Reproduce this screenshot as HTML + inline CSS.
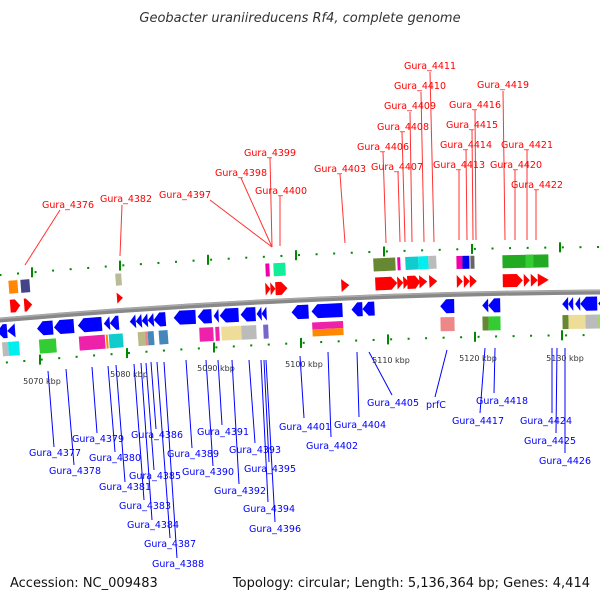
<!DOCTYPE html>
<html><head><style>
body{margin:0;background:#fff;}
svg{display:block;font-family:"DejaVu Sans","Liberation Sans",sans-serif;}
.r{fill:#f00;font-size:9.5px;text-anchor:middle}
.b{fill:#00f;font-size:9.5px;text-anchor:middle}
.k{fill:#333;font-size:8px;text-anchor:middle}
</style></head><body>
<svg width="600" height="600" viewBox="0 0 600 600">
<text x="300" y="22" font-size="13" font-style="italic" text-anchor="middle" fill="#333">Geobacter uraniireducens Rf4, complete genome</text>
<text x="10" y="587" font-size="13" fill="#111">Accession: NC_009483</text>
<text x="590" y="587" font-size="13" fill="#111" text-anchor="end">Topology: circular; Length: 5,136,364 bp; Genes: 4,414</text>

<g stroke="#f33" stroke-width="1">
<line x1="60" y1="210" x2="25" y2="265"/>
<line x1="122" y1="205" x2="120" y2="256"/>
<line x1="210" y1="200" x2="272" y2="247"/>
<line x1="241" y1="178" x2="272" y2="247"/>
<line x1="270" y1="158" x2="272" y2="247"/>
<line x1="280" y1="196" x2="280" y2="246"/>
<line x1="340" y1="174" x2="345" y2="243"/>
<line x1="383" y1="152" x2="386" y2="243"/>
<line x1="398" y1="172" x2="400" y2="242"/>
<line x1="402" y1="132" x2="405" y2="242"/>
<line x1="410" y1="112" x2="412" y2="242"/>
<line x1="421" y1="92" x2="424" y2="242"/>
<line x1="430" y1="72" x2="434" y2="242"/>
<line x1="459" y1="170" x2="459" y2="240"/>
<line x1="466" y1="150" x2="467" y2="240"/>
<line x1="472" y1="130" x2="473" y2="240"/>
<line x1="475" y1="110" x2="476" y2="240"/>
<line x1="503" y1="91" x2="505" y2="240"/>
<line x1="515" y1="170" x2="515" y2="240"/>
<line x1="527" y1="150" x2="527" y2="240"/>
<line x1="536" y1="190" x2="536" y2="240"/>
</g>
<g>
<text x="68" y="208" class="r">Gura_4376</text>
<text x="126" y="202" class="r">Gura_4382</text>
<text x="185" y="198" class="r">Gura_4397</text>
<text x="241" y="176" class="r">Gura_4398</text>
<text x="270" y="156" class="r">Gura_4399</text>
<text x="281" y="194" class="r">Gura_4400</text>
<text x="340" y="172" class="r">Gura_4403</text>
<text x="383" y="150" class="r">Gura_4406</text>
<text x="397" y="170" class="r">Gura_4407</text>
<text x="403" y="130" class="r">Gura_4408</text>
<text x="410" y="109" class="r">Gura_4409</text>
<text x="420" y="89" class="r">Gura_4410</text>
<text x="430" y="69" class="r">Gura_4411</text>
<text x="459" y="168" class="r">Gura_4413</text>
<text x="466" y="148" class="r">Gura_4414</text>
<text x="472" y="128" class="r">Gura_4415</text>
<text x="475" y="108" class="r">Gura_4416</text>
<text x="503" y="88" class="r">Gura_4419</text>
<text x="516" y="168" class="r">Gura_4420</text>
<text x="527" y="148" class="r">Gura_4421</text>
<text x="537" y="188" class="r">Gura_4422</text>
</g>

<g stroke="#00f" stroke-width="1">
<line x1="48" y1="371" x2="54" y2="447"/>
<line x1="66" y1="369" x2="74" y2="465"/>
<line x1="92" y1="367" x2="97" y2="433"/>
<line x1="108" y1="366" x2="115" y2="452"/>
<line x1="116" y1="365" x2="125" y2="482"/>
<line x1="134" y1="364" x2="144" y2="500"/>
<line x1="141" y1="363" x2="152" y2="520"/>
<line x1="146" y1="363" x2="154" y2="470"/>
<line x1="151" y1="362" x2="156" y2="429"/>
<line x1="157" y1="362" x2="170" y2="538"/>
<line x1="164" y1="362" x2="177" y2="558"/>
<line x1="186" y1="360" x2="192" y2="448"/>
<line x1="206" y1="360" x2="213" y2="466"/>
<line x1="218" y1="360" x2="222" y2="425"/>
<line x1="232" y1="360" x2="239" y2="484"/>
<line x1="249" y1="360" x2="255" y2="443"/>
<line x1="261" y1="360" x2="268" y2="502"/>
<line x1="264" y1="360" x2="269" y2="462"/>
<line x1="266" y1="360" x2="275" y2="522"/>
<line x1="300" y1="356" x2="304" y2="418"/>
<line x1="328" y1="352" x2="331" y2="437"/>
<line x1="357" y1="352" x2="359" y2="417"/>
<line x1="369" y1="352" x2="392" y2="395"/>
<line x1="447" y1="350" x2="435" y2="397"/>
<line x1="485" y1="348" x2="480" y2="413"/>
<line x1="495" y1="348" x2="494" y2="393"/>
<line x1="552" y1="348" x2="552" y2="413"/>
<line x1="557" y1="348" x2="556" y2="433"/>
<line x1="565" y1="348" x2="565" y2="453"/>
</g>
<g>
<text x="55" y="456" class="b">Gura_4377</text>
<text x="75" y="474" class="b">Gura_4378</text>
<text x="98" y="442" class="b">Gura_4379</text>
<text x="115" y="461" class="b">Gura_4380</text>
<text x="125" y="490" class="b">Gura_4381</text>
<text x="145" y="509" class="b">Gura_4383</text>
<text x="153" y="528" class="b">Gura_4384</text>
<text x="155" y="479" class="b">Gura_4385</text>
<text x="157" y="438" class="b">Gura_4386</text>
<text x="170" y="547" class="b">Gura_4387</text>
<text x="178" y="567" class="b">Gura_4388</text>
<text x="193" y="457" class="b">Gura_4389</text>
<text x="208" y="475" class="b">Gura_4390</text>
<text x="223" y="435" class="b">Gura_4391</text>
<text x="240" y="494" class="b">Gura_4392</text>
<text x="255" y="453" class="b">Gura_4393</text>
<text x="269" y="512" class="b">Gura_4394</text>
<text x="270" y="472" class="b">Gura_4395</text>
<text x="275" y="532" class="b">Gura_4396</text>
<text x="305" y="430" class="b">Gura_4401</text>
<text x="332" y="449" class="b">Gura_4402</text>
<text x="360" y="428" class="b">Gura_4404</text>
<text x="393" y="406" class="b">Gura_4405</text>
<text x="436" y="408" class="b">prfC</text>
<text x="478" y="424" class="b">Gura_4417</text>
<text x="502" y="404" class="b">Gura_4418</text>
<text x="546" y="424" class="b">Gura_4424</text>
<text x="550" y="444" class="b">Gura_4425</text>
<text x="565" y="464" class="b">Gura_4426</text>
</g>

<!-- genome arc -->
<path d="M-30,322.7 Q300,292.7 630,291.9" fill="none" stroke="#888" stroke-width="5"/>
<path d="M-30,321.2 Q300,291.2 630,290.4" fill="none" stroke="#aaa" stroke-width="1.5"/>
<path d="M-30,277.7 Q300,247.7 630,246.9" fill="none" stroke="#080" stroke-width="2" stroke-dasharray="2 15.6" stroke-dashoffset="-12"/>
<path d="M-30,365.7 Q300,335.7 630,334.9" fill="none" stroke="#080" stroke-width="2" stroke-dasharray="2 15.5" stroke-dashoffset="-1"/>
<g stroke="#080" stroke-width="2">
<line x1="32" y1="267.3" x2="32" y2="277.3"/><line x1="120" y1="260.6" x2="120" y2="270.6"/><line x1="208" y1="254.8" x2="208" y2="264.8"/><line x1="296" y1="250.2" x2="296" y2="260.2"/><line x1="384" y1="246.5" x2="384" y2="256.5"/><line x1="472" y1="243.9" x2="472" y2="253.9"/><line x1="560" y1="242.3" x2="560" y2="252.3"/>
<line x1="40" y1="354.6" x2="40" y2="364.6"/><line x1="127" y1="348.1" x2="127" y2="358.1"/><line x1="214" y1="342.5" x2="214" y2="352.5"/><line x1="301" y1="337.9" x2="301" y2="347.9"/><line x1="388" y1="334.4" x2="388" y2="344.4"/><line x1="475" y1="331.8" x2="475" y2="341.8"/><line x1="562" y1="330.3" x2="562" y2="340.3"/>
</g>

<!-- segment A -->
<g transform="translate(0,6.1) rotate(-4.3 85 307)">
<rect x="11" y="269" width="9" height="13" fill="#f80"/>
<rect x="23" y="269" width="9" height="13" fill="#448"/>
<rect x="118" y="270" width="6" height="12" fill="#bb9"/>
<g fill="#f00">
<polygon points="11,288 16,288 21,294.5 16,301 11,301"/>
<polygon points="25,288 27,288 33,294.5 27,301 25,301"/>
<polygon points="118,289 124,294.5 118,300"/>
</g>
<g fill="#00f">
<polygon points="-4,319 2,312 6,312 6,326 2,326"/>
<polygon points="6,319 14,312 14,326"/>
<polygon points="36,319 42,312 52,312 52,326 42,326"/>
<polygon points="53,319 59,312 73,312 73,326 59,326"/>
<polygon points="77,319 83,312 101,312 101,326 83,326"/>
<polygon points="103,319 109,312 109,326"/>
<polygon points="109,319 115,312 118,312 118,326 115,326"/>
<polygon points="129,319 135,312 135,326"/>
<polygon points="135,319 141,312 141,326"/>
<polygon points="141,319 147,312 147,326"/>
<polygon points="147,319 153,312 153,326"/>
<polygon points="153,319 159,312 165,312 165,326 159,326"/>
</g>
<rect x="0" y="330" width="6" height="14" fill="#bbb"/>
<rect x="6" y="330" width="11" height="14" fill="#0ee"/>
<rect x="37" y="330" width="17" height="14" fill="#3c3"/>
<rect x="77" y="330" width="26" height="14" fill="#e2a"/>
<rect x="104" y="330" width="2" height="14" fill="#f80"/>
<rect x="107" y="330" width="14" height="14" fill="#1cc"/>
<rect x="136" y="330" width="7" height="14" fill="#bb8"/>
<rect x="143" y="330" width="3" height="14" fill="#e88"/>
<rect x="146" y="330" width="6" height="14" fill="#48b"/>
<rect x="157" y="330" width="9" height="14" fill="#48b"/>
</g>

<!-- segment B -->
<g transform="translate(0,-7) rotate(-2.67 300 307)">
<rect x="267" y="269" width="4" height="13" fill="#e0a"/>
<rect x="275" y="269" width="12" height="13" fill="#1e9"/>
<rect x="375" y="269" width="22" height="13" fill="#683"/>
<rect x="399" y="269" width="3" height="13" fill="#e0a"/>
<rect x="407" y="269" width="13" height="13" fill="#1cc"/>
<rect x="420" y="269" width="10" height="13" fill="#0ee"/>
<rect x="430" y="269" width="8" height="13" fill="#bbb"/>
<g fill="#f00">
<polygon points="266,288 271,294.5 266,301"/>
<polygon points="271,288 276,294.5 271,301"/>
<polygon points="276,288 282,288 288,294.5 282,301 276,301"/>
<polygon points="342,288 350,294.5 342,301"/>
<polygon points="376,288 392,288 398,294.5 392,301 376,301"/>
<polygon points="398,288 404,294.5 398,301"/>
<polygon points="404,288 410,294.5 404,301"/>
<polygon points="408,288 416,288 421,294.5 416,301 408,301"/>
<polygon points="420,288 428,294.5 420,301"/>
<polygon points="430,288 438,294.5 430,301"/>
</g>
<g fill="#00f">
<polygon points="173,319 179,312 195,312 195,326 179,326"/>
<polygon points="197,319 203,312 211,312 211,326 203,326"/>
<polygon points="213,319 218,312 218,326"/>
<polygon points="219,319 225,312 238,312 238,326 225,326"/>
<polygon points="240,319 246,312 255,312 255,326 246,326"/>
<polygon points="256,319 261,312 261,326"/>
<polygon points="261,319 266,312 266,326"/>
<polygon points="291,319 297,312 308,312 308,326 297,326"/>
<polygon points="311,319 317,312 342,312 342,326 317,326"/>
<polygon points="351,319 357,312 362,312 362,326 357,326"/>
<polygon points="362,319 368,312 374,312 374,326 368,326"/>
</g>
<rect x="198" y="330" width="14" height="14" fill="#e2a"/>
<rect x="214" y="330" width="4" height="14" fill="#e2a"/>
<rect x="220" y="330" width="20" height="14" fill="#ed9"/>
<rect x="240" y="330" width="15" height="14" fill="#bbb"/>
<rect x="262" y="330" width="5" height="14" fill="#76c"/>
<rect x="311" y="330" width="31" height="7" fill="#e2a"/>
<rect x="311" y="337" width="31" height="7" fill="#f80"/>
</g>

<!-- segment C -->
<g transform="translate(0,-14.1) rotate(-1.0 520 307)">
<rect x="457" y="269" width="6" height="13" fill="#e0a"/>
<rect x="463" y="269" width="7" height="13" fill="#00e"/>
<rect x="471" y="269" width="4" height="13" fill="#666"/>
<rect x="503" y="269" width="46" height="13" fill="#2a2"/>
<rect x="526" y="269" width="8" height="13" fill="#3c3"/>
<g fill="#f00">
<polygon points="457,288 463,294.5 457,301"/>
<polygon points="464,288 470,294.5 464,301"/>
<polygon points="470,288 477,294.5 470,301"/>
<polygon points="503,288 517,288 523,294.5 517,301 503,301"/>
<polygon points="524,288 530,294.5 524,301"/>
<polygon points="531,288 538,294.5 531,301"/>
<polygon points="538,288 549,294.5 538,301"/>
</g>
<g fill="#00f">
<polygon points="440,319 446,312 454,312 454,326 446,326"/>
<polygon points="482,319 488,312 488,326"/>
<polygon points="488,319 494,312 500,312 500,326 494,326"/>
<polygon points="562,319 568,312 568,326"/>
<polygon points="568,319 573,312 573,326"/>
<polygon points="575,319 580,312 580,326"/>
<polygon points="580,319 586,312 597,312 597,326 586,326"/>
<polygon points="598,319 604,312 610,312 610,326 604,326"/>
</g>
<rect x="440" y="330" width="14" height="14" fill="#e88"/>
<rect x="482" y="330" width="6" height="14" fill="#683"/>
<rect x="488" y="330" width="12" height="14" fill="#3c3"/>
<rect x="562" y="330" width="6" height="14" fill="#683"/>
<rect x="568" y="330" width="17" height="14" fill="#ed9"/>
<rect x="585" y="330" width="13" height="14" fill="#bbb"/>
<rect x="598" y="330" width="10" height="14" fill="#8e3"/>
</g>

<g>
<text x="42" y="384" class="k">5070 kbp</text>
<text x="129" y="377" class="k">5080 kbp</text>
<text x="216" y="371" class="k">5090 kbp</text>
<text x="304" y="367" class="k">5100 kbp</text>
<text x="391" y="363" class="k">5110 kbp</text>
<text x="478" y="361" class="k">5120 kbp</text>
<text x="565" y="361" class="k">5130 kbp</text>
</g>
</svg>
</body></html>
